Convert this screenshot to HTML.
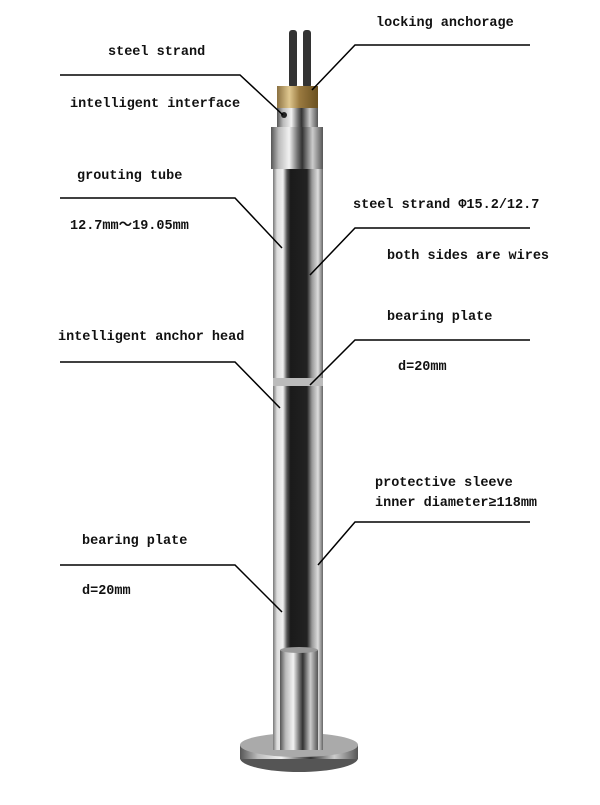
<!DOCTYPE html>
<html><head><meta charset="utf-8"><style>
body{margin:0;background:#fff;}
svg text{font-family:"Liberation Mono","Noto Sans CJK SC",monospace;font-size:13.5px;font-weight:bold;fill:#111;}
</style></head><body>
<svg width="600" height="800" viewBox="0 0 600 800" xmlns="http://www.w3.org/2000/svg">
<defs>
<linearGradient id="m" x1="0" x2="1" y1="0" y2="0">
<stop offset="0" stop-color="#555"/><stop offset="0.15" stop-color="#bbb"/><stop offset="0.35" stop-color="#f2f2f2"/><stop offset="0.5" stop-color="#777"/><stop offset="0.6" stop-color="#333"/><stop offset="0.8" stop-color="#ccc"/><stop offset="1" stop-color="#555"/>
</linearGradient>
<linearGradient id="g" x1="0" x2="1" y1="0" y2="0">
<stop offset="0" stop-color="#8a7040"/><stop offset="0.3" stop-color="#e0c890"/><stop offset="0.55" stop-color="#9a7a40"/><stop offset="1" stop-color="#6a5020"/>
</linearGradient>
<linearGradient id="t" x1="0" x2="1" y1="0" y2="0">
<stop offset="0" stop-color="#777"/><stop offset="0.08" stop-color="#ddd"/><stop offset="0.2" stop-color="#f0f0f0"/><stop offset="0.28" stop-color="#555"/><stop offset="0.35" stop-color="#1a1a1a"/><stop offset="0.68" stop-color="#222"/><stop offset="0.78" stop-color="#999"/><stop offset="0.9" stop-color="#ddd"/><stop offset="1" stop-color="#666"/>
</linearGradient>
</defs>
<ellipse cx="299" cy="758" rx="59" ry="14" fill="#555"/>
<rect x="240" y="745" width="118" height="14" fill="url(#m)"/>
<ellipse cx="299" cy="745" rx="59" ry="12" fill="#aaa"/>
<rect x="273" y="165" width="50" height="585" fill="url(#t)"/>
<rect x="280" y="650" width="38" height="100" fill="url(#m)"/>
<ellipse cx="299" cy="650" rx="19" ry="3" fill="#999"/>
<rect x="273" y="378" width="50" height="8" fill="#bbb"/>
<rect x="289" y="30" width="8" height="58" rx="3" fill="#333"/>
<rect x="303" y="30" width="8" height="58" rx="3" fill="#333"/>
<rect x="277" y="86" width="41" height="22" fill="url(#g)"/>
<rect x="277" y="108" width="41" height="20" fill="url(#m)"/>
<circle cx="284" cy="115" r="3" fill="#222"/>
<rect x="271" y="127" width="52" height="42" fill="url(#m)"/>
<g stroke="#000" stroke-width="1.5" fill="none">
<polyline points="60,75 240,75 283,115"/>
<polyline points="530,45 355,45 312,90"/>
<polyline points="60,198 235,198 282,248"/>
<polyline points="530,228 355,228 310,275"/>
<polyline points="530,340 355,340 310,385"/>
<polyline points="60,362 235,362 280,408"/>
<polyline points="530,522 355,522 318,565"/>
<polyline points="60,565 235,565 282,612"/>
</g>
<text x="108" y="55">steel strand</text>
<text x="70" y="107">intelligent interface</text>
<text x="376" y="26">locking anchorage</text>
<text x="77" y="179">grouting tube</text>
<text x="70" y="229">12.7mm～19.05mm</text>
<text x="353" y="208">steel strand Φ15.2/12.7</text>
<text x="387" y="259">both sides are wires</text>
<text x="387" y="320">bearing plate</text>
<text x="398" y="370">d=20mm</text>
<text x="58" y="340">intelligent anchor head</text>
<text x="375" y="486">protective sleeve</text>
<text x="375" y="506">inner diameter≥118mm</text>
<text x="82" y="544">bearing plate</text>
<text x="82" y="594">d=20mm</text>
</svg>
</body></html>
